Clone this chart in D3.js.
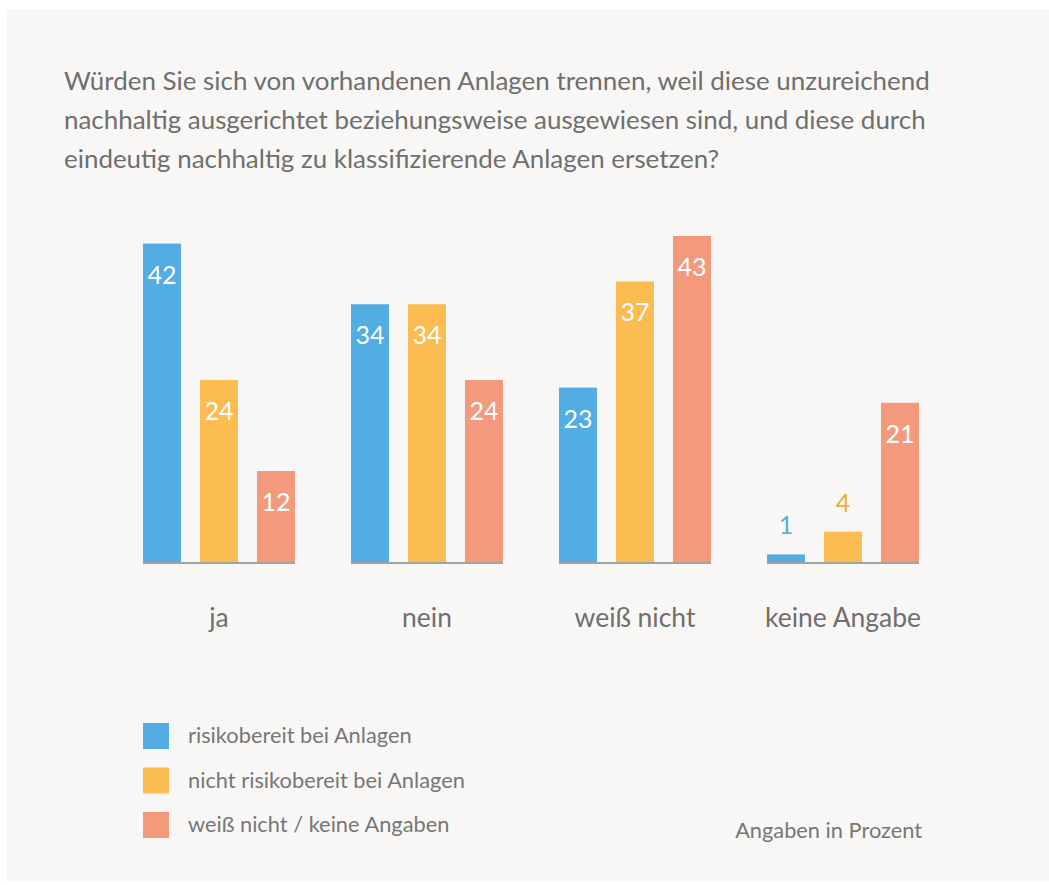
<!DOCTYPE html>
<html>
<head>
<meta charset="utf-8">
<script src="https://cdn.jsdelivr.net/npm/d3@7"></script>
<style>
  body { margin: 0; background: #fff; }
  svg { display: block; }
  text { font-family: Lato, "Open Sans", sans-serif; }
</style>
</head>
<body>
<script>
let w = 1049;
let h = 885;

let categories = ["ja", "nein", "weiß nicht", "keine Angabe"];
let seriesNames = ["risikobereit bei Anlagen", "nicht risikobereit bei Anlagen", "weiß nicht / keine Angaben"];
let risikobereit = [42, 34, 23, 1];
let nichtRisikobereit = [24, 34, 37, 4];
let weissNicht = [12, 24, 43, 21];
let titleLines = [
  "Würden Sie sich von vorhandenen Anlagen trennen, weil diese unzureichend",
  "nachhaltig ausgerichtet beziehungsweise ausgewiesen sind, und diese durch",
  "eindeutig nachhaltig zu klassifizierende Anlagen ersetzen?"
];

let colors = ["#52aee2", "#fcbc52", "#f29a7b"];
let smallLabelColors = ["#5aaee0", "#e8ae45", "#f29a7b"];
let series = [risikobereit, nichtRisikobereit, weissNicht];

// pick a font size so that a text node is as wide as in the original
const fitSize = (node, base, target) => {
    node.style.fontSize = base + "px";
    let len = node.getComputedTextLength();
    return base * target / len;
};

let svg = d3.select("body")
            .append("svg")
            .attr("width", w)
            .attr("height", h);

svg.append("rect")
   .attr("x", 7).attr("y", 9)
   .attr("width", w - 7).attr("height", 873)
   .attr("fill", "#f8f7f5");

// title
let titleSel = svg.selectAll("text.title")
   .data(titleLines)
   .enter()
   .append("text")
   .attr("class", "title")
   .attr("x", 64)
   .attr("y", (d, i) => 90 + i * 39)
   .attr("fill", "#6f6f6f")
   .text(d => d);
let titleSize = fitSize(titleSel.node(), 22, 866);
titleSel.style("font-size", titleSize + "px");

let baseY = 562;
let y = d3.scaleLinear([0, 43], [baseY, baseY - 326]);

let x0 = d3.scaleBand(categories, [143, 143 + 3 * 208 + 152]).paddingInner(56 / 208).paddingOuter(0);
let x1 = d3.scaleBand([0, 1, 2], [0, x0.bandwidth()]).paddingInner(19 / 57).paddingOuter(0);

let groups = svg.selectAll("g.group")
   .data(categories)
   .enter()
   .append("g")
   .attr("class", "group")
   .attr("transform", d => `translate(${x0(d)},0)`);

let catLabels = [];
groups.each(function(cat, ci) {
   let g = d3.select(this);
   series.forEach((vals, si) => {
      let v = vals[ci];
      g.append("rect")
       .attr("x", x1(si))
       .attr("y", y(v))
       .attr("width", x1.bandwidth())
       .attr("height", baseY - y(v))
       .attr("fill", colors[si]);
      let inside = (baseY - y(v)) > 50;
      g.append("text")
       .attr("x", x1(si) + x1.bandwidth() / 2)
       .attr("y", inside ? y(v) + 40 : y(v) - 20)
       .attr("text-anchor", "middle")
       .attr("fill", inside ? "#fff" : smallLabelColors[si])
       .style("font-size", "25px")
       .text(v);
   });
   g.append("line")
    .attr("x1", 0)
    .attr("x2", x0.bandwidth())
    .attr("y1", baseY + 1)
    .attr("y2", baseY + 1)
    .attr("stroke", "#a3a3a3")
    .attr("stroke-width", 2);
   catLabels.push(g.append("text")
    .attr("x", x0.bandwidth() / 2)
    .attr("y", 627)
    .attr("text-anchor", "middle")
    .attr("fill", "#6f6f6f")
    .text(cat));
});
let catSize = fitSize(catLabels[3].node(), 22, 156);
catLabels.forEach(t => t.style("font-size", catSize + "px"));

// legend
let legend = svg.append("g").attr("transform", "translate(143,723)");
let legTexts = [];
seriesNames.forEach((name, i) => {
   legend.append("rect")
         .attr("x", 0)
         .attr("y", i * 44.5)
         .attr("width", 26)
         .attr("height", 26)
         .attr("fill", colors[i]);
   legTexts.push(legend.append("text")
         .attr("x", 45)
         .attr("y", i * 44.5 + 20)
         .attr("fill", "#777")
         .text(name));
});
let legSize = fitSize(legTexts[1].node(), 19, 277);
legTexts.forEach(t => t.style("font-size", legSize + "px"));

let note = svg.append("text")
   .attr("x", 922)
   .attr("y", 838)
   .attr("text-anchor", "end")
   .attr("fill", "#777")
   .text("Angaben in Prozent");
note.style("font-size", fitSize(note.node(), 18, 187) + "px");
</script>
</body>
</html>
